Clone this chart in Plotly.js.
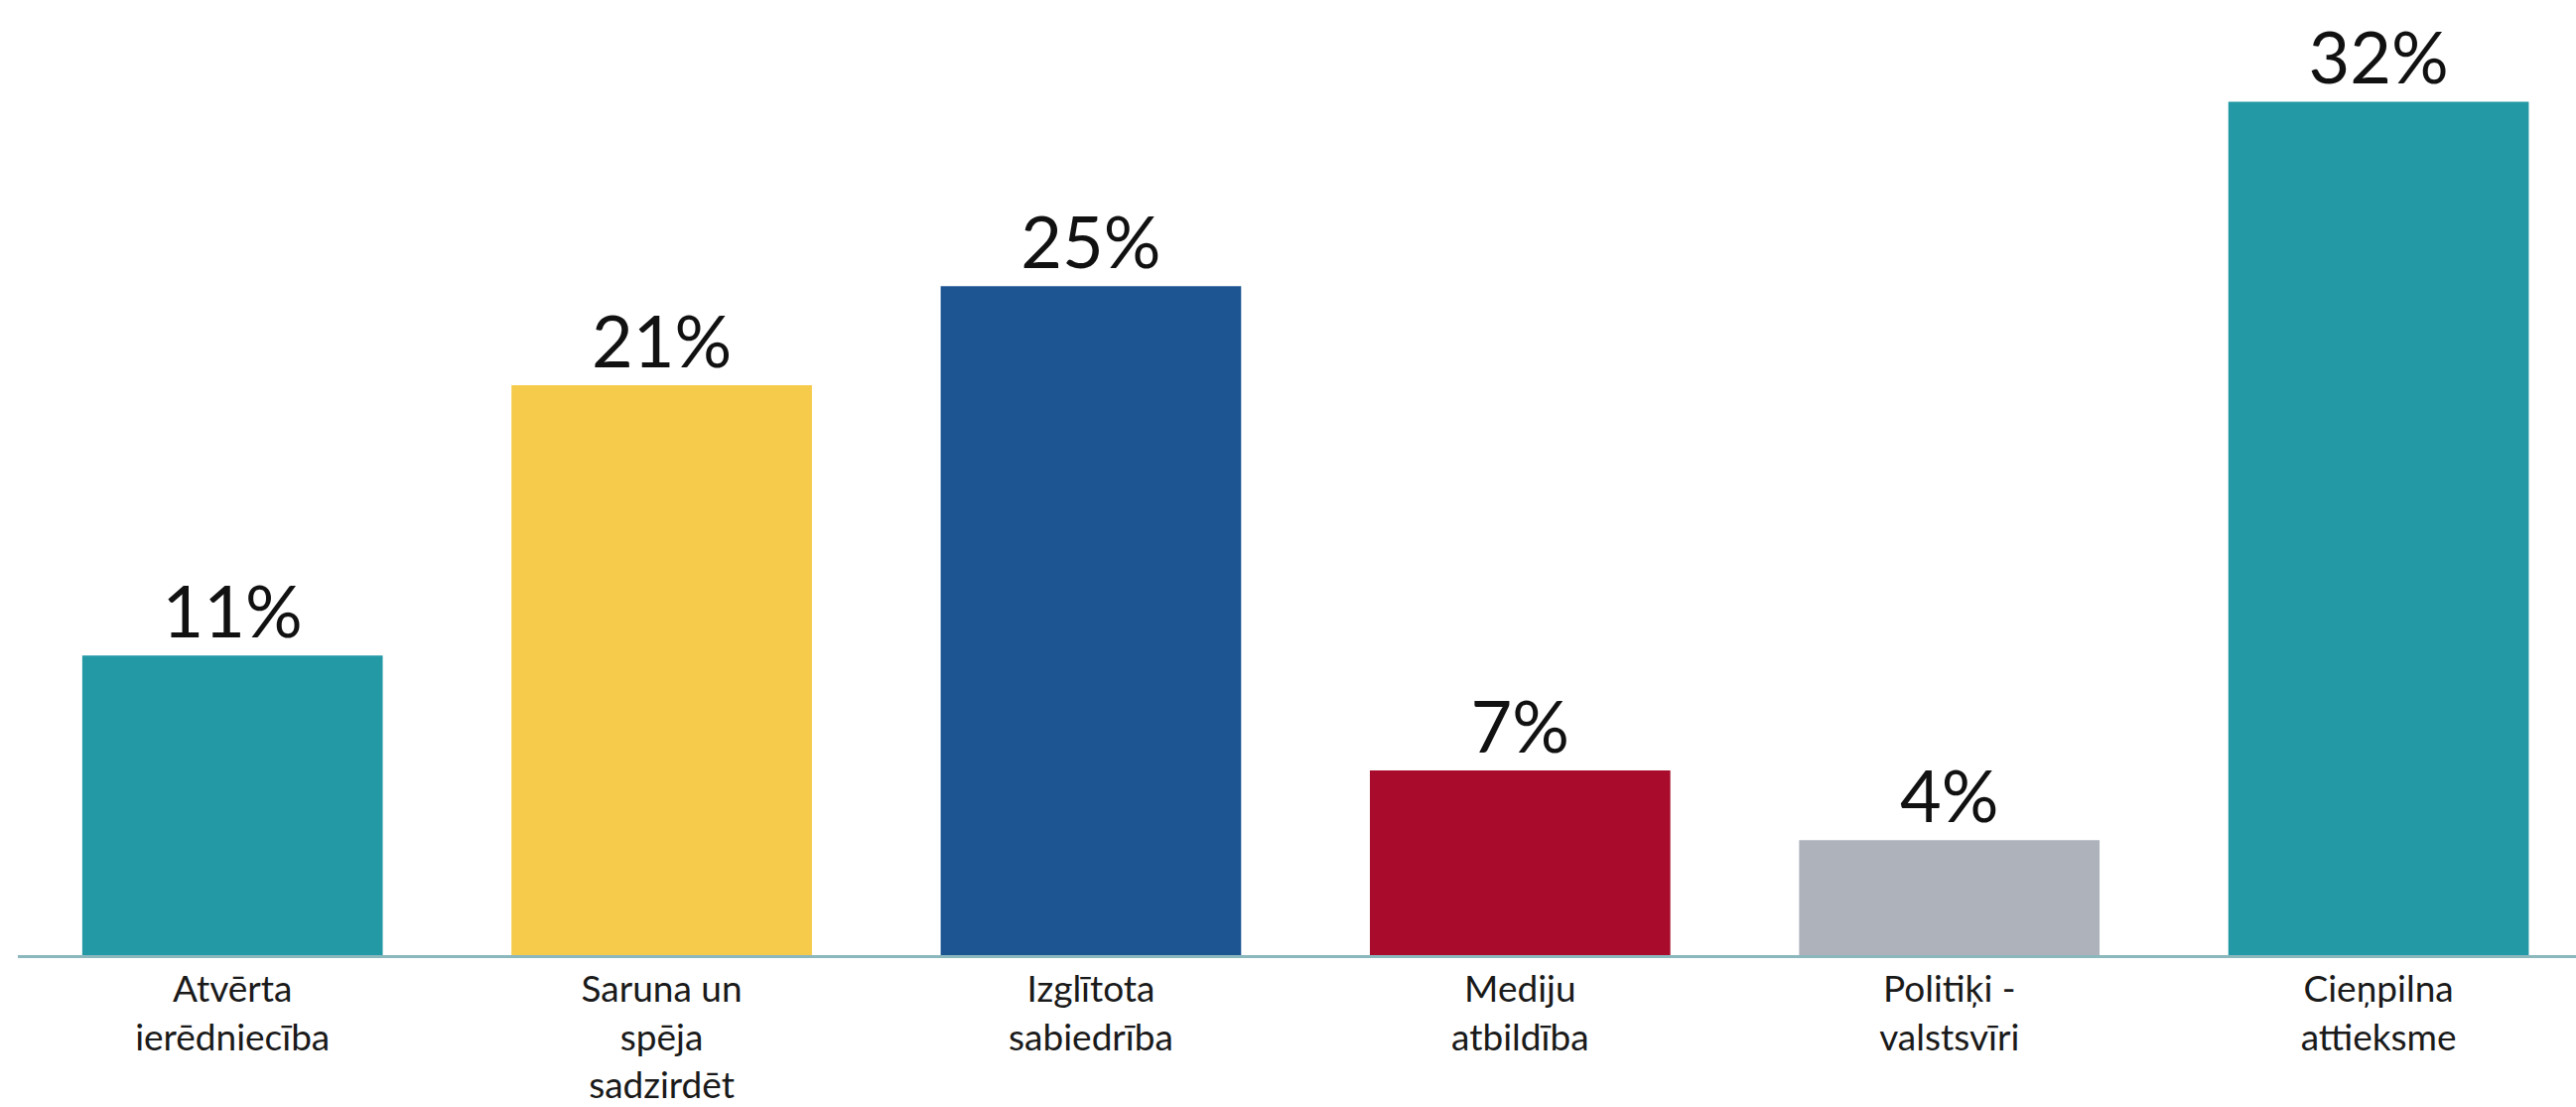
<!DOCTYPE html>
<html>
<head>
<meta charset="utf-8">
<script src="https://cdn.plot.ly/plotly-3.0.1.min.js"></script>
<style>
  html, body { margin: 0; padding: 0; background: #ffffff; }
  #chart { width: 2595px; height: 1115px; }
</style>
</head>
<body>
<div id="chart"></div>
<script>
const categories = [
  "Atvērta<br>ierēdniecība",
  "Saruna un<br>spēja<br>sadzirdēt",
  "Izglītota<br>sabiedrība",
  "Mediju<br>atbildība",
  "Politiķi -<br>valstsvīri",
  "Cieņpilna<br>attieksme"
];
const values = [11.2, 21.3, 25.0, 6.9, 4.3, 31.9];
const labels = values.map(v => Math.round(v) + "%");
const colors = ["#2399a5", "#f6ca4a", "#1c5592", "#a80b2b", "#adb2bb", "#2399a5"];

const trace = {
  type: "bar",
  x: categories,
  y: values,
  text: labels,
  textposition: "outside",
  cliponaxis: false,
  textfont: { family: "Lato, 'Open Sans', sans-serif", size: 72, color: "#111111" },
  marker: { color: colors, line: { width: 0 } },
  hoverinfo: "none"
};

const layout = {
  width: 2595,
  height: 1115,
  margin: { l: 18, r: 0, t: 0, b: 153, pad: 0 },
  paper_bgcolor: "#ffffff",
  plot_bgcolor: "#ffffff",
  bargap: 0.3,
  showlegend: false,
  xaxis: {
    type: "category",
    range: [-0.5, 5.46],
    showline: true,
    linecolor: "#8bb8bd",
    linewidth: 3,
    showgrid: false,
    zeroline: false,
    ticks: "",
    ticklabelstandoff: 0,
    tickfont: { family: "Lato, 'Open Sans', sans-serif", size: 37, color: "#1a1a1a" },
    fixedrange: true
  },
  yaxis: {
    range: [0, 35.7],
    visible: false,
    showgrid: false,
    zeroline: false,
    fixedrange: true
  }
};

Plotly.newPlot("chart", [trace], layout, { displayModeBar: false, staticPlot: true });
</script>
</body>
</html>
